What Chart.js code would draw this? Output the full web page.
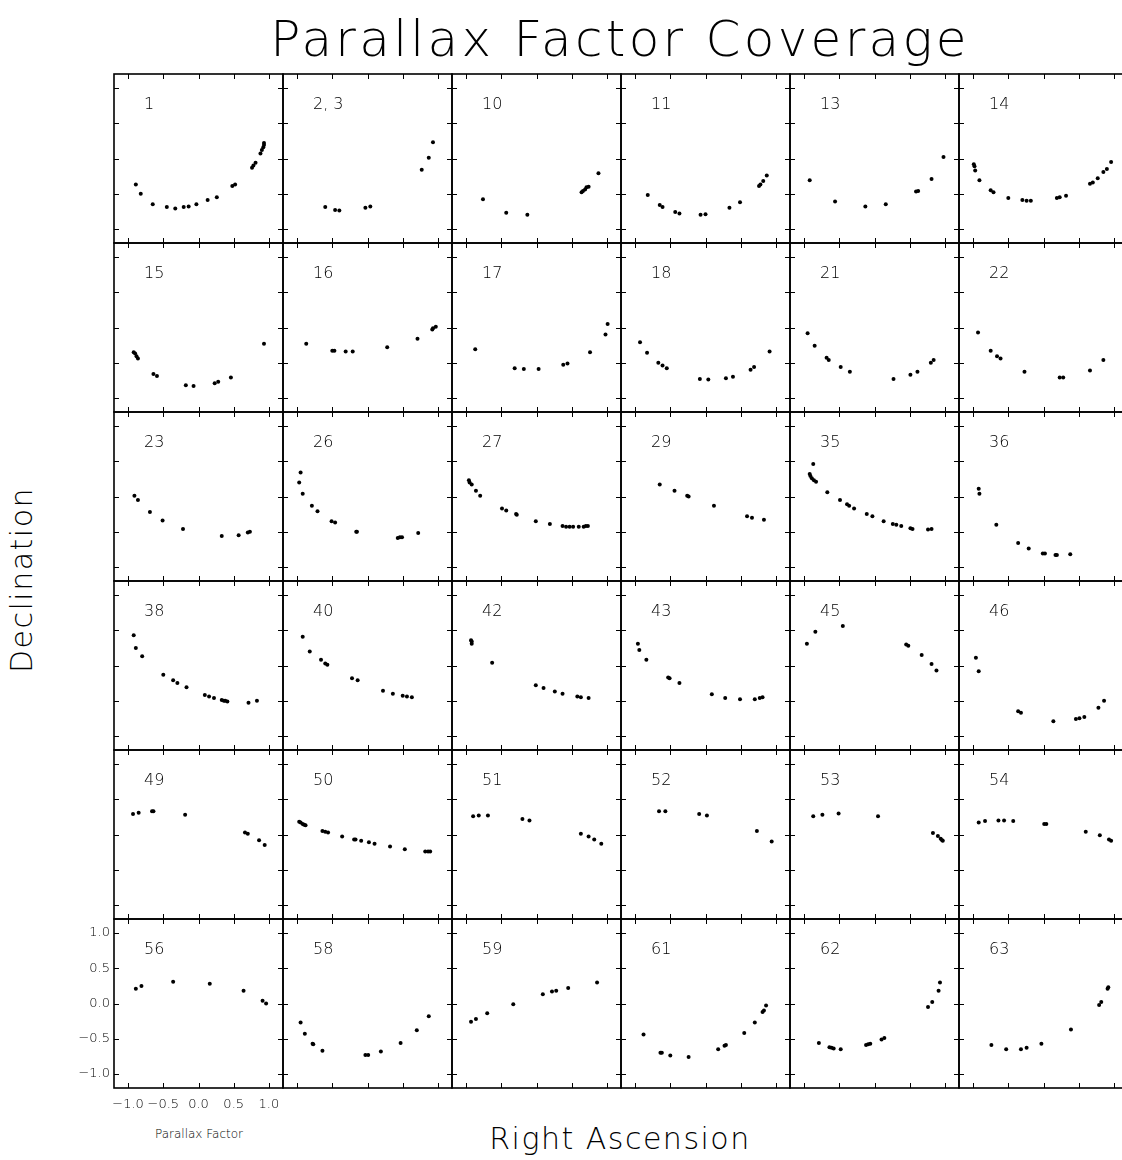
<!DOCTYPE html>
<html>
<head>
<meta charset="utf-8">
<script src="https://cdn.jsdelivr.net/npm/chart.js@4.4.1/dist/chart.umd.min.js"></script>
<style>
  html, body { margin: 0; padding: 0; background: #fff; }
  #page { position: relative; width: 1122px; height: 1160px; overflow: hidden;
          font-family: "DejaVu Sans", sans-serif; font-weight: 200; color: #000; }
  #page canvas { position: absolute; }
  .txt { position: absolute; white-space: nowrap; line-height: 1; }
  #title { left: 620px; top: 14px; transform: translateX(-50%); font-size: 50px; letter-spacing: 3.3px; }
  #xtitle { left: 620px; top: 1124px; transform: translateX(-50%); font-size: 30px; letter-spacing: 1.5px; }
  #ytitle { left: 22px; top: 580px; transform: translate(-50%, -50%) rotate(-90deg); font-size: 30px; letter-spacing: 1.5px; }
  #pftitle { left: 199px; top: 1128px; transform: translateX(-50%); font-size: 12px; font-weight: 300; }
</style>
</head>
<body>
<div id="page">
  <div class="txt" id="title">Parallax Factor Coverage</div>
  <div class="txt" id="ytitle">Declination</div>
  <div class="txt" id="xtitle">Right Ascension</div>
  <div class="txt" id="pftitle">Parallax Factor</div>
</div>
<script>
const tickValues = [-1.0, -0.5, 0.0, 0.5, 1.0];

const panelLabels = [
  "1", "2, 3", "10", "11", "13", "14",
  "15", "16", "17", "18", "21", "22",
  "23", "26", "27", "29", "35", "36",
  "38", "40", "42", "43", "45", "46",
  "49", "50", "51", "52", "53", "54",
  "56", "58", "59", "61", "62", "63"
];

// parallax factor in RA (x) and Dec (y), one pair of arrays per panel
const ra1 = [-0.89, -0.82, -0.65, -0.45, -0.33, -0.21, -0.14, -0.03, 0.13, 0.26, 0.48, 0.52, 0.76, 0.78, 0.81, 0.88, 0.90, 0.92, 0.93, 0.93];
const dec1 = [-0.37, -0.50, -0.65, -0.69, -0.71, -0.69, -0.68, -0.65, -0.59, -0.55, -0.39, -0.37, -0.13, -0.10, -0.06, 0.07, 0.12, 0.16, 0.19, 0.22];
const ra2 = [-0.60, -0.46, -0.40, -0.03, 0.04, 0.77, 0.87, 0.93];
const dec2 = [-0.69, -0.73, -0.74, -0.70, -0.68, -0.16, 0.01, 0.23];
const ra10 = [-0.76, -0.43, -0.13, 0.64, 0.66, 0.69, 0.71, 0.74, 0.88];
const dec10 = [-0.58, -0.77, -0.80, -0.48, -0.46, -0.44, -0.41, -0.40, -0.21];
const ra11 = [-0.82, -0.65, -0.61, -0.43, -0.37, -0.07, 0.00, 0.34, 0.49, 0.76, 0.78, 0.82, 0.87];
const dec11 = [-0.52, -0.66, -0.69, -0.76, -0.78, -0.80, -0.79, -0.70, -0.62, -0.39, -0.37, -0.32, -0.24];
const ra13 = [-0.92, -0.56, -0.13, 0.16, 0.59, 0.62, 0.81, 0.98];
const dec13 = [-0.31, -0.61, -0.68, -0.65, -0.47, -0.46, -0.29, 0.02];
const ra14 = [-0.99, -0.98, -0.97, -0.91, -0.75, -0.71, -0.50, -0.30, -0.24, -0.18, 0.19, 0.23, 0.32, 0.66, 0.70, 0.77, 0.85, 0.90, 0.96];
const dec14 = [-0.08, -0.11, -0.17, -0.31, -0.45, -0.48, -0.56, -0.59, -0.60, -0.60, -0.56, -0.55, -0.53, -0.36, -0.34, -0.28, -0.19, -0.15, -0.05];

const ra15 = [-0.92, -0.90, -0.88, -0.86, -0.64, -0.59, -0.18, -0.07, 0.23, 0.28, 0.46, 0.93];
const dec15 = [-0.35, -0.37, -0.41, -0.44, -0.66, -0.69, -0.82, -0.83, -0.79, -0.77, -0.71, -0.23];
const ra16 = [-0.87, -0.50, -0.47, -0.31, -0.21, 0.28, 0.71, 0.92, 0.93, 0.97];
const dec16 = [-0.23, -0.33, -0.33, -0.34, -0.34, -0.28, -0.16, -0.03, -0.01, 0.01];
const ra17 = [-0.87, -0.31, -0.18, 0.03, 0.38, 0.44, 0.76, 0.98, 1.01];
const dec17 = [-0.31, -0.58, -0.59, -0.59, -0.53, -0.51, -0.35, -0.10, 0.05];
const ra18 = [-0.93, -0.83, -0.67, -0.61, -0.55, -0.08, 0.04, 0.29, 0.39, 0.64, 0.69, 0.91];
const dec18 = [-0.21, -0.36, -0.50, -0.54, -0.58, -0.73, -0.74, -0.72, -0.70, -0.60, -0.56, -0.34];
const ra21 = [-0.95, -0.85, -0.68, -0.65, -0.48, -0.35, 0.27, 0.51, 0.61, 0.80, 0.84];
const dec21 = [-0.08, -0.26, -0.43, -0.46, -0.56, -0.63, -0.73, -0.67, -0.63, -0.50, -0.46];
const ra22 = [-0.93, -0.75, -0.66, -0.61, -0.27, 0.23, 0.28, 0.66, 0.85];
const dec22 = [-0.07, -0.33, -0.41, -0.44, -0.63, -0.71, -0.71, -0.61, -0.46];

const ra23 = [-0.91, -0.86, -0.69, -0.51, -0.22, 0.33, 0.57, 0.70, 0.73];
const dec23 = [0.01, -0.05, -0.22, -0.34, -0.46, -0.56, -0.55, -0.51, -0.50];
const ra26 = [-0.95, -0.97, -0.92, -0.79, -0.71, -0.51, -0.46, -0.16, -0.15, 0.43, 0.46, 0.49, 0.72];
const dec26 = [0.34, 0.20, 0.04, -0.13, -0.21, -0.35, -0.37, -0.50, -0.50, -0.59, -0.58, -0.58, -0.52];
const ra27 = [-0.96, -0.95, -0.92, -0.86, -0.80, -0.49, -0.43, -0.29, -0.28, -0.01, 0.19, 0.37, 0.42, 0.47, 0.52, 0.60, 0.67, 0.70, 0.73];
const dec27 = [0.23, 0.20, 0.17, 0.08, 0.01, -0.17, -0.20, -0.25, -0.26, -0.35, -0.39, -0.42, -0.43, -0.43, -0.43, -0.43, -0.43, -0.42, -0.42];
const ra29 = [-0.65, -0.44, -0.26, -0.24, 0.12, 0.59, 0.66, 0.83];
const dec29 = [0.17, 0.08, 0.01, 0.00, -0.13, -0.28, -0.30, -0.33];
const ra35 = [-0.87, -0.92, -0.91, -0.89, -0.86, -0.83, -0.67, -0.49, -0.39, -0.36, -0.29, -0.11, -0.03, 0.13, 0.26, 0.31, 0.38, 0.51, 0.54, 0.76, 0.81];
const dec35 = [0.46, 0.32, 0.29, 0.26, 0.23, 0.21, 0.06, -0.05, -0.11, -0.13, -0.17, -0.25, -0.28, -0.35, -0.39, -0.40, -0.42, -0.45, -0.46, -0.47, -0.46];
const ra36 = [-0.92, -0.91, -0.67, -0.36, -0.21, -0.01, 0.02, 0.17, 0.19, 0.38];
const dec36 = [0.11, 0.04, -0.40, -0.66, -0.74, -0.81, -0.81, -0.83, -0.83, -0.82];

const ra38 = [-0.92, -0.89, -0.80, -0.50, -0.36, -0.30, -0.17, 0.09, 0.15, 0.22, 0.33, 0.36, 0.38, 0.41, 0.71, 0.83];
const dec38 = [0.43, 0.25, 0.13, -0.13, -0.21, -0.25, -0.31, -0.42, -0.44, -0.46, -0.49, -0.50, -0.50, -0.51, -0.53, -0.50];
const ra40 = [-0.92, -0.82, -0.66, -0.60, -0.57, -0.22, -0.14, 0.22, 0.36, 0.50, 0.56, 0.63];
const dec40 = [0.41, 0.20, 0.08, 0.03, 0.01, -0.18, -0.21, -0.36, -0.40, -0.43, -0.44, -0.45];
const ra42 = [-0.93, -0.92, -0.92, -0.63, -0.01, 0.10, 0.26, 0.37, 0.58, 0.63, 0.74];
const dec42 = [0.36, 0.34, 0.31, 0.04, -0.28, -0.32, -0.37, -0.40, -0.44, -0.45, -0.46];
const ra43 = [-0.96, -0.94, -0.84, -0.53, -0.51, -0.37, 0.09, 0.28, 0.49, 0.70, 0.77, 0.81];
const dec43 = [0.31, 0.22, 0.08, -0.17, -0.18, -0.25, -0.41, -0.46, -0.48, -0.48, -0.46, -0.45];
const ra45 = [-0.96, -0.84, -0.45, 0.45, 0.48, 0.67, 0.81, 0.88];
const dec45 = [0.31, 0.48, 0.56, 0.30, 0.28, 0.15, 0.02, -0.07];
const ra46 = [-0.96, -0.92, -0.36, -0.32, 0.14, 0.46, 0.51, 0.58, 0.78, 0.86];
const dec46 = [0.11, -0.08, -0.65, -0.67, -0.79, -0.76, -0.75, -0.73, -0.60, -0.50];

const ra49 = [-0.93, -0.85, -0.66, -0.64, -0.19, 0.66, 0.70, 0.86, 0.94];
const dec49 = [0.29, 0.31, 0.33, 0.33, 0.28, 0.03, 0.01, -0.08, -0.15];
const ra50 = [-0.97, -0.95, -0.92, -0.90, -0.88, -0.64, -0.60, -0.56, -0.36, -0.19, -0.17, -0.09, 0.02, 0.10, 0.32, 0.53, 0.82, 0.86, 0.89];
const dec50 = [0.18, 0.17, 0.15, 0.14, 0.13, 0.05, 0.04, 0.03, -0.03, -0.07, -0.07, -0.09, -0.11, -0.13, -0.17, -0.21, -0.24, -0.24, -0.24];
const ra51 = [-0.90, -0.82, -0.69, -0.20, -0.10, 0.63, 0.74, 0.82, 0.92];
const dec51 = [0.26, 0.27, 0.27, 0.22, 0.20, 0.01, -0.03, -0.07, -0.13];
const ra52 = [-0.66, -0.57, -0.09, 0.02, 0.73, 0.94];
const dec52 = [0.33, 0.33, 0.29, 0.27, 0.05, -0.10];
const ra53 = [-0.87, -0.74, -0.51, 0.05, 0.83, 0.90, 0.94, 0.96, 0.97];
const dec53 = [0.26, 0.28, 0.30, 0.26, 0.02, -0.02, -0.06, -0.08, -0.09];
const ra54 = [-0.92, -0.83, -0.64, -0.56, -0.43, 0.01, 0.04, 0.60, 0.80, 0.93, 0.96];
const dec54 = [0.17, 0.19, 0.20, 0.20, 0.19, 0.15, 0.15, 0.04, -0.01, -0.07, -0.09];

const ra56 = [-0.89, -0.81, -0.36, 0.16, 0.64, 0.91, 0.96];
const dec56 = [0.21, 0.25, 0.31, 0.28, 0.18, 0.04, 0.00];
const ra58 = [-0.95, -0.89, -0.78, -0.77, -0.64, -0.03, 0.01, 0.19, 0.47, 0.70, 0.87];
const dec58 = [-0.27, -0.43, -0.57, -0.58, -0.67, -0.73, -0.73, -0.68, -0.56, -0.38, -0.18];
const ra59 = [-0.93, -0.86, -0.70, -0.33, 0.09, 0.22, 0.28, 0.45, 0.86];
const dec59 = [-0.26, -0.22, -0.14, -0.01, 0.13, 0.17, 0.18, 0.22, 0.30];
const ra61 = [-0.88, -0.64, -0.62, -0.50, -0.24, 0.18, 0.27, 0.29, 0.55, 0.70, 0.81, 0.83, 0.86];
const dec61 = [-0.44, -0.70, -0.70, -0.74, -0.76, -0.65, -0.60, -0.59, -0.42, -0.27, -0.12, -0.10, -0.03];
const ra62 = [-0.79, -0.64, -0.61, -0.58, -0.48, -0.12, -0.09, -0.06, 0.10, 0.14, 0.76, 0.82, 0.91, 0.93];
const dec62 = [-0.56, -0.62, -0.63, -0.64, -0.65, -0.59, -0.58, -0.57, -0.51, -0.49, -0.05, 0.02, 0.18, 0.30];
const ra63 = [-0.74, -0.53, -0.32, -0.24, -0.03, 0.39, 0.79, 0.82, 0.91, 0.92];
const dec63 = [-0.59, -0.65, -0.65, -0.63, -0.57, -0.37, -0.02, 0.02, 0.21, 0.23];

const raSets = [ra1, ra2, ra10, ra11, ra13, ra14, ra15, ra16, ra17, ra18, ra21, ra22,
  ra23, ra26, ra27, ra29, ra35, ra36, ra38, ra40, ra42, ra43, ra45, ra46,
  ra49, ra50, ra51, ra52, ra53, ra54, ra56, ra58, ra59, ra61, ra62, ra63];
const decSets = [dec1, dec2, dec10, dec11, dec13, dec14, dec15, dec16, dec17, dec18, dec21, dec22,
  dec23, dec26, dec27, dec29, dec35, dec36, dec38, dec40, dec42, dec43, dec45, dec46,
  dec49, dec50, dec51, dec52, dec53, dec54, dec56, dec58, dec59, dec61, dec62, dec63];

const page = document.querySelector("#page");
const gridLeft = 114;
const gridTop = 74;
const cell = 169;
const cols = 6;
const rows = 6;
const fontFamily = '"DejaVu Sans", sans-serif';

// frame, inward ticks on all four sides, and the star number
const framePlugin = {
  id: "frame",
  afterDraw(chart, args, opts) {
    const { ctx, chartArea: a, scales } = chart;
    ctx.save();
    ctx.strokeStyle = "#000";
    ctx.lineWidth = 1;
    ctx.beginPath();
    for (const v of tickValues) {
      const px = Math.round(scales.x.getPixelForValue(v)) + 0.5;
      ctx.moveTo(px, a.top);
      ctx.lineTo(px, a.top + 5);
      ctx.moveTo(px, a.bottom);
      ctx.lineTo(px, a.bottom - 5);
      const py = Math.round(scales.y.getPixelForValue(v)) + 0.5;
      ctx.moveTo(a.left, py);
      ctx.lineTo(a.left + 5, py);
      ctx.moveTo(a.right, py);
      ctx.lineTo(a.right - 5, py);
    }
    ctx.stroke();
    ctx.lineWidth = 1.6;
    ctx.strokeRect(a.left, a.top, a.right - a.left, a.bottom - a.top);
    ctx.fillStyle = "#000";
    ctx.font = "300 16px " + fontFamily;
    ctx.textBaseline = "alphabetic";
    ctx.fillText(opts.text, a.left + 30, a.top + 35);
    ctx.restore();
  }
};

function tickLabel(value) {
  return Number(value).toFixed(1).replace("-", "\u2212");
}

function makeScale(showLabels, isX) {
  return {
    type: "linear",
    min: -1.2,
    max: 1.2,
    display: showLabels,
    afterBuildTicks: (scale) => {
      scale.ticks = tickValues.map((v) => ({ value: v }));
    },
    afterFit: (scale) => {
      if (!showLabels) return;
      if (isX) scale.height = 30;
      else scale.width = 45;
      // labels never reach the panel corners, so no overhang padding
      scale.paddingLeft = 0;
      scale.paddingRight = 0;
      scale.paddingTop = 0;
      scale.paddingBottom = 0;
    },
    grid: { display: false, drawTicks: false },
    border: { display: false },
    ticks: {
      color: "#000",
      padding: isX ? 9 : 4,
      maxRotation: 0,
      autoSkip: false,
      font: { family: fontFamily, size: 13, weight: "300" },
      callback: tickLabel
    }
  };
}

function makePanel(index) {
  const col = index % cols;
  const row = Math.floor(index / cols);
  const showLabels = col === 0 && row === rows - 1;
  const x0 = gridLeft + col * cell;
  const y0 = gridTop + row * cell;

  const canvas = document.createElement("canvas");
  const extraLeft = showLabels ? 45 : 0;
  const extraBottom = showLabels ? 30 : 0;
  const w = cell + 2 + extraLeft;
  const h = cell + 2 + extraBottom;
  canvas.width = w;
  canvas.height = h;
  canvas.style.width = w + "px";
  canvas.style.height = h + "px";
  canvas.style.left = (x0 - 1 - extraLeft) + "px";
  canvas.style.top = (y0 - 1) + "px";
  page.append(canvas);

  const xs = raSets[index];
  const ys = decSets[index];

  return new Chart(canvas, {
    type: "scatter",
    data: {
      datasets: [
        {
          data: xs.map((v, i) => ({ x: v, y: ys[i] })),
          pointRadius: 2,
          pointBackgroundColor: "#000",
          pointBorderWidth: 0,
          showLine: false
        }
      ]
    },
    options: {
      responsive: false,
      animation: false,
      devicePixelRatio: 1,
      layout: { autoPadding: false, padding: { left: 1, top: 1, right: 1, bottom: 1 } },
      plugins: {
        legend: { display: false },
        tooltip: { enabled: false },
        frame: { text: panelLabels[index] }
      },
      scales: {
        x: makeScale(showLabels, true),
        y: makeScale(showLabels, false)
      }
    },
    plugins: [framePlugin]
  });
}

for (let i = 0; i < panelLabels.length; i++) {
  makePanel(i);
}
</script>
</body>
</html>
